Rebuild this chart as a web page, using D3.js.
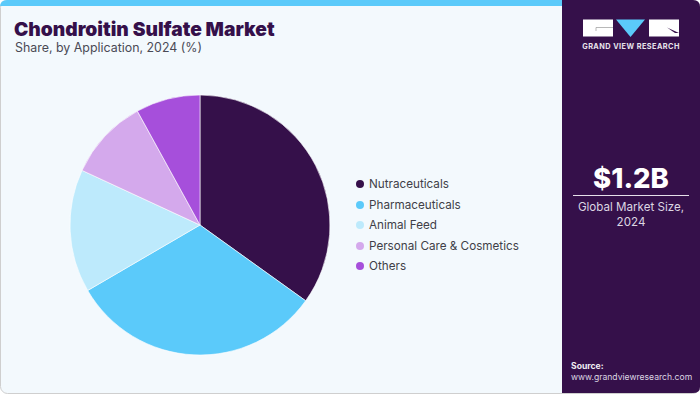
<!DOCTYPE html>
<html>
<head>
<meta charset="utf-8">
<script src="https://cdn.jsdelivr.net/npm/d3@7"></script>
<style>
  html, body { margin: 0; padding: 0; background: #fff; }
  text { font-family: Inter, "Liberation Sans", sans-serif; }
</style>
</head>
<body>
<svg id="chart" width="700" height="400"></svg>
<script>
// Chart values
var categories = ["Nutraceuticals", "Pharmaceuticals", "Animal Feed", "Personal Care & Cosmetics", "Others"];
var shares = [34.9, 31.7, 15.3, 10.1, 8.0];
var colors = ["#35104a", "#5bcafa", "#bdeafc", "#d4a9ec", "#a64fdb"];
var legendRows = [184, 205, 225, 246, 266];

var svg = d3.select("#chart");

// Card background, top strip and side panel
svg.append("rect").attr("x", 0.5).attr("y", 0.5).attr("width", 699).attr("height", 393).attr("rx", 7)
  .attr("fill", "#f3f9fd").attr("stroke", "#cfcfcf");
svg.append("path").attr("d", "M0,6 V7 Q0,0 7,0 H562 V6 Z").attr("fill", "#5bcafa");
svg.append("path").attr("d", "M562,0 H693 Q700,0 700,7 V387 Q700,393 693,393 H562 Z").attr("fill", "#35104a");

// Titles
svg.append("text").attr("x", 14).attr("y", 36).attr("font-size", 19.2).attr("font-weight", 900)
  .attr("fill", "#35104a").text("Chondroitin Sulfate Market");
svg.append("text").attr("x", 15).attr("y", 52).attr("font-size", 12.4)
  .attr("fill", "#4a4a55").text("Share, by Application, 2024 (%)");

// Pie
var pie = d3.pie().sort(null).value(function(d) { return d; });
var arc = d3.arc().innerRadius(0).outerRadius(130);
svg.append("g").attr("transform", "translate(200,225)")
  .selectAll("path")
  .data(pie(shares))
  .enter().append("path")
  .attr("d", arc)
  .attr("fill", function(d, i) { return colors[i]; })
  .attr("stroke", "#ffffff")
  .attr("stroke-width", 0.6);

// Legend
var legend = svg.append("g").selectAll("g")
  .data(categories)
  .enter().append("g")
  .attr("transform", function(d, i) { return "translate(0," + legendRows[i] + ")"; });
legend.append("circle").attr("cx", 360).attr("cy", 0).attr("r", 4)
  .attr("fill", function(d, i) { return colors[i]; });
legend.append("text").attr("x", 369).attr("y", 4).attr("font-size", 11.7)
  .attr("fill", "#3f3f48").text(function(d) { return d; });

// Logo
var logo = svg.append("g");
logo.append("rect").attr("x", 583).attr("y", 19.5).attr("width", 30).attr("height", 17).attr("fill", "#fff");
logo.append("rect").attr("x", 649).attr("y", 19.5).attr("width", 30).attr("height", 17).attr("fill", "#fff");
logo.append("path").attr("d", "M616,19.5 H645 L630.5,37 Z").attr("fill", "#5bcafa");
logo.append("path").attr("d", "M596,27.5 H613 M596,27.5 V31").attr("stroke", "#999").attr("fill", "none").attr("stroke-width", 0.7);
logo.append("path").attr("d", "M667,27.5 L679,33 H675 Z").attr("fill", "#35104a");
svg.append("text").attr("x", 631).attr("y", 49).attr("text-anchor", "middle").attr("font-size", 7.3)
  .attr("font-weight", 700).attr("letter-spacing", 0.45).attr("fill", "#e8e4ec").text("GRAND VIEW RESEARCH");

// Market size box
svg.append("text").attr("x", 631).attr("y", 188).attr("text-anchor", "middle").attr("font-size", 27.5)
  .attr("font-weight", 800).attr("fill", "#fff").text("$1.2B");
svg.append("line").attr("x1", 573).attr("x2", 689).attr("y1", 195.5).attr("y2", 195.5)
  .attr("stroke", "#e6e0ea").attr("stroke-width", 1);
svg.append("text").attr("x", 631).attr("y", 211).attr("text-anchor", "middle").attr("font-size", 11.6)
  .attr("fill", "#dcd6e2").text("Global Market Size,");
svg.append("text").attr("x", 631).attr("y", 226).attr("text-anchor", "middle").attr("font-size", 11.6)
  .attr("fill", "#dcd6e2").text("2024");

// Source
svg.append("text").attr("x", 571).attr("y", 368.5).attr("font-size", 8.6).attr("font-weight", 700)
  .attr("fill", "#f0edf3").text("Source:");
svg.append("text").attr("x", 571).attr("y", 379.5).attr("font-size", 8.6)
  .attr("fill", "#dcd6e2").text("www.grandviewresearch.com");
</script>
</body>
</html>
